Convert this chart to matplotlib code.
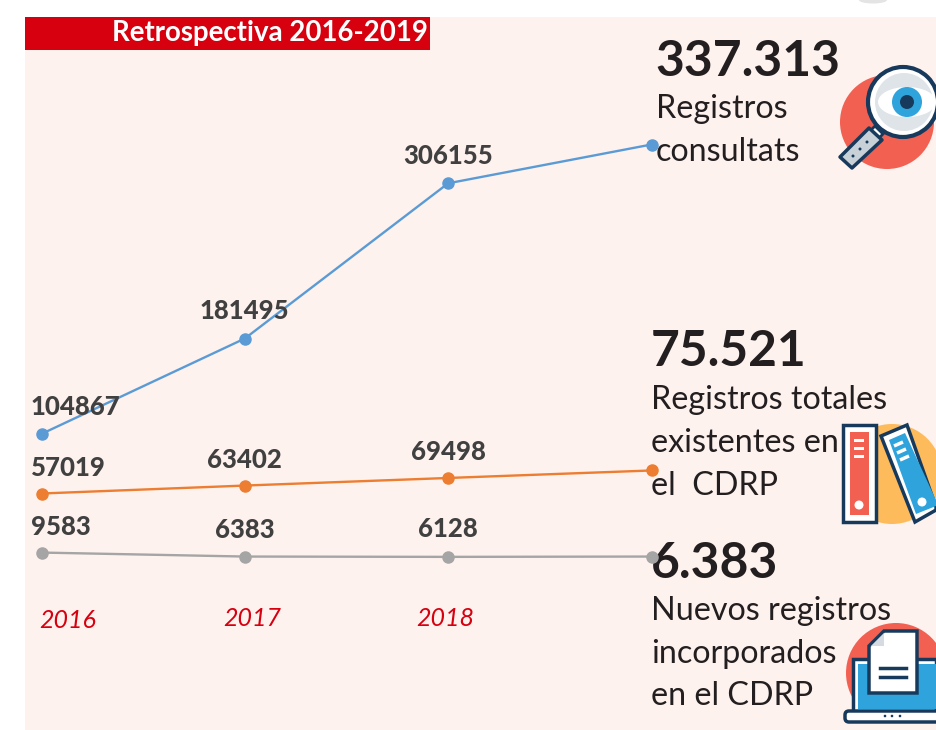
import matplotlib
matplotlib.use('Agg')
import matplotlib.pyplot as plt
from matplotlib.patches import Circle, Rectangle, Polygon, FancyBboxPatch, Ellipse

plt.rcParams['font.family'] = ['Lato', 'DejaVu Sans']

# Data
years = ['2016', '2017', '2018']
consultats = [104867, 181495, 306155, 337313]
totales = [57019, 63402, 69498, 75521]
nuevos = [9583, 6383, 6128, 6383]
x_pos = [0, 1, 2, 3]

BLUE = '#5b9bd5'
ORANGE = '#ed7d31'
GREY = '#a5a5a5'
RED = '#d7000f'
NAVY = '#173a5c'
CORAL = '#f26052'
SKY = '#2ea3dc'
DARK = '#231f20'

fig = plt.figure(figsize=(9.36, 7.3), dpi=100, facecolor='white')

# background layer in pixel coords
bg = fig.add_axes([0, 0, 1, 1])
bg.set_xlim(0, 936)
bg.set_ylim(730, 0)
bg.axis('off')
bg.add_patch(Ellipse((873, 0), 28, 7, fc='#e4e4e4', ec='none'))
bg.add_patch(Rectangle((25, 17), 911, 713, fc='#fef2ee', ec='none'))
bg.add_patch(Rectangle((25, 17), 405, 33, fc=RED, ec='none'))
bg.text(428, 33, 'Retrospectiva 2016-2019', color='white', fontsize=19.9, fontweight='bold',
        ha='right', va='center')

# line chart
ax = fig.add_axes([41.5 / 936, (730 - 564.5) / 730, 610 / 936, 420 / 730])
ax.patch.set_alpha(0)
ax.set_xlim(0, 3)
ax.set_ylim(0, 337313)
ax.axis('off')
series = [(consultats, BLUE, [(34, 27), (0, 28), (0, 27)]),
          (totales, ORANGE, [(27, 26), (0, 26), (0, 26)]),
          (nuevos, GREY, [(19, 26), (0, 27), (0, 28)])]
for vals, col, offs in series:
    ax.plot(x_pos, vals, color=col, lw=1.7, marker='o', ms=8, clip_on=False, zorder=3)
    # last point has no label
    for i in range(3):
        ax.annotate(str(vals[i]), (x_pos[i], vals[i]), xytext=offs[i],
                    textcoords='offset pixels', ha='center', va='center', fontsize=18.5,
                    fontweight='black', color='#404040', zorder=4, annotation_clip=False)

# years
for i, yr in enumerate(years):
    bg.text([68, 252, 445][i], [620, 619, 619][i], yr, color=RED, fontsize=18, style='italic',
            ha='center', va='center')

# KPI text
for s, x, y in [('337.313', 655, 62), ('75.521', 651, 352), ('6.383', 651, 563)]:
    bg.text(x, y, s, color=DARK, fontsize=35.8, fontweight='bold', ha='left', va='center', zorder=6)
for s, x, y in [('Registros', 656, 109), ('consultats', 656, 152),
                ('Registros totales', 651, 400), ('existentes en', 651, 443), ('el  CDRP', 651, 486),
                ('Nuevos registros', 651, 611), ('incorporados', 651, 654), ('en el CDRP', 651, 696)]:
    bg.text(x, y, s, color=DARK, fontsize=23.2, ha='left', va='center', zorder=6)

# magnifier icon
bg.add_patch(Circle((887, 122), 47, fc=CORAL, ec='none'))
bg.add_patch(Polygon([(875, 126), (883, 134), (876, 141), (868, 133)], fc='white', ec=NAVY, lw=2))
bg.add_patch(Polygon([(869, 128), (882, 140), (852, 168), (840, 157)], closed=True, fc='#c9d1d8', ec=NAVY, lw=2.5, joinstyle='round'))
for px, py in [(853, 156), (860, 149), (867, 142)]:
    bg.add_patch(Circle((px, py), 1.5, fc=NAVY, ec='none'))
bg.add_patch(Circle((903, 102), 35, fc='white', ec=NAVY, lw=3))
bg.add_patch(Circle((904, 102), 29, fc='#dfe4e8', ec='none'))
bg.add_patch(Ellipse((907, 102), 58, 30, fc='white', ec='none'))
bg.add_patch(Circle((907, 102), 15, fc=SKY, ec='none'))
bg.add_patch(Circle((907, 102), 7, fc=NAVY, ec='none'))

# binders icon
bg.add_patch(Circle((892, 474), 50, fc='#fdbb5c', ec='none'))
bg.add_patch(Rectangle((843, 425), 33, 97, fc='white', ec=NAVY, lw=2.5))
bg.add_patch(Rectangle((850, 432), 19, 83, fc=CORAL, ec='none'))
for py in [439, 447, 455]:
    bg.add_patch(Rectangle((854, py), 10, 3, fc='white', ec='none'))
bg.add_patch(Circle((859, 505), 4.5, fc='white', ec='none'))
bg.add_patch(Polygon([(881, 436), (907, 425), (936, 507), (936, 510), (915, 522)], fc='white', ec=NAVY, lw=2.5))
bg.add_patch(Polygon([(889, 440), (905, 433), (936, 500), (936, 506), (916, 514)], fc=SKY, ec='none'))
for a, b in [((894, 446), (903, 442)), ((897, 453), (906, 449)), ((900, 460), (909, 456))]:
    bg.plot([a[0], b[0]], [a[1], b[1]], color='white', lw=2.5, solid_capstyle='butt')
bg.add_patch(Circle((922, 502), 4.5, fc='white', ec='none'))

# laptop icon
bg.add_patch(Circle((896, 673), 50, fc=CORAL, ec='none'))
bg.add_patch(Rectangle((853, 659), 83, 54, fc='white', ec=NAVY, lw=2.5))
bg.add_patch(Rectangle((858, 664), 78, 45, fc=SKY, ec='none'))
bg.add_patch(FancyBboxPatch((845, 711), 95, 11, boxstyle='round,pad=0,rounding_size=4', fc='white', ec=NAVY, lw=2.5))
for px in [885, 892, 900]:
    bg.add_patch(Circle((px, 716), 1.3, fc=NAVY, ec='none'))
bg.add_patch(Polygon([(869, 646), (884, 631), (917, 631), (917, 693), (869, 693)], fc='white', ec=NAVY, lw=2.5))
bg.add_patch(Polygon([(871, 646), (884, 633), (884, 646)], fc='#d5dbe0', ec='none'))
bg.plot([880, 906], [668, 668], color=NAVY, lw=2.5)
bg.plot([880, 906], [677, 677], color=NAVY, lw=2.5)
bg.set_xlim(0, 936)
bg.set_ylim(730, 0)

fig.savefig('out.png', dpi=100)
